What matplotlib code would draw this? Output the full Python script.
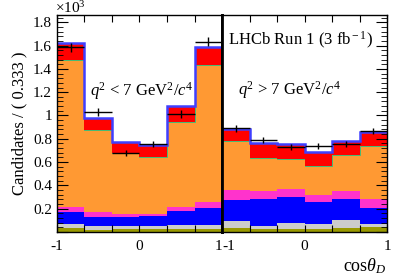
import numpy as np
import matplotlib
matplotlib.use('Agg')
import matplotlib.pyplot as plt
from matplotlib.ticker import FixedLocator, MultipleLocator, FuncFormatter

plt.rcParams['font.family'] = 'serif'
plt.rcParams['font.serif'] = ['Liberation Serif', 'DejaVu Serif']
plt.rcParams['mathtext.fontset'] = 'custom'
plt.rcParams['mathtext.rm'] = 'Liberation Serif'
plt.rcParams['mathtext.it'] = 'Liberation Serif:italic'

# bin edges in cos(theta_D), six bins per q2 region
edges = np.linspace(-1, 1, 7)
centres = 0.5 * (edges[1:] + edges[:-1])

# stacked components, in units of 10^3 candidates (bottom to top)
low_olive = [0.034, 0.022, 0.025, 0.025, 0.025, 0.025]
low_gray = [0.037, 0.028, 0.026, 0.029, 0.035, 0.035]
low_blue = [0.103, 0.081, 0.078, 0.080, 0.123, 0.149]
low_magenta = [0.041, 0.043, 0.026, 0.023, 0.032, 0.051]
low_orange = [1.261, 0.702, 0.525, 0.487, 0.732, 1.173]
low_red = [0.145, 0.100, 0.090, 0.100, 0.135, 0.157]
low_data = [1.585, 1.030, 0.680, 0.753, 1.013, 1.633]
low_err = [0.040, 0.032, 0.026, 0.027, 0.032, 0.040]

high_olive = [0.037, 0.026, 0.030, 0.030, 0.037, 0.046]
high_gray = [0.057, 0.026, 0.047, 0.039, 0.066, 0.020]
high_blue = [0.181, 0.231, 0.223, 0.191, 0.183, 0.143]
high_magenta = [0.085, 0.069, 0.072, 0.060, 0.066, 0.074]
high_orange = [0.424, 0.286, 0.255, 0.247, 0.309, 0.455]
high_red = [0.097, 0.123, 0.126, 0.122, 0.120, 0.123]
high_data = [0.890, 0.790, 0.727, 0.741, 0.755, 0.867]
high_err = [0.030, 0.028, 0.027, 0.027, 0.027, 0.029]

colours = ['#999900', '#cccccc', '#0000ff', '#ff33cc', '#ff9933', '#ff0000']

fig = plt.figure(figsize=(4.07, 2.77), dpi=100)
left, right, bottom, top = 0.140, 0.951, 0.162, 0.946
w = (right - left) / 2
ax1 = fig.add_axes([left, bottom, w, top - bottom])
ax2 = fig.add_axes([left + w, bottom, w, top - bottom], sharey=ax1)


def draw_panel(ax, layers, data, err):
    base = np.zeros(6)
    for vals, col in zip(layers, colours):
        vals = np.array(vals)
        ax.stairs(base + vals, edges, baseline=base, fill=True, color=col, lw=0)
        if col == '#ff9933':
            # thin green line on top of the orange component
            ax.stairs(base + vals, edges, baseline=None, color='#44bb77', lw=0.7)
        base = base + vals
    ax.stairs(base, edges, baseline=None, color='#3f3fff', lw=1.8)
    ax.errorbar(centres, data, xerr=1/6, yerr=err, fmt='none',
                ecolor='black', elinewidth=1.0, capsize=0)
    ax.set_xlim(-1, 1)
    ax.xaxis.set_major_locator(FixedLocator(list(edges)))
    ax.xaxis.set_major_formatter(FuncFormatter(
        lambda v, p: '%g' % round(v) if abs(v - round(v)) < 1e-6 else ''))
    ax.tick_params(axis='x', which='both', direction='in', top=True,
                   length=5, labelsize=11, pad=6)


draw_panel(ax1, [low_olive, low_gray, low_blue, low_magenta, low_orange, low_red],
           low_data, low_err)
draw_panel(ax2, [high_olive, high_gray, high_blue, high_magenta, high_orange, high_red],
           high_data, high_err)

ax1.set_ylim(0, 1.862)
ax1.yaxis.set_major_locator(MultipleLocator(0.2))
ax1.yaxis.set_minor_locator(MultipleLocator(0.04))
ax1.yaxis.set_major_formatter(FuncFormatter(lambda v, p: '' if v < 0.01 else '%g' % round(v, 1)))
ax1.tick_params(axis='y', which='major', direction='in', length=8, labelsize=11, right=False)
ax1.tick_params(axis='y', which='minor', direction='in', length=4, right=False)
ax2.tick_params(axis='y', which='major', direction='in', length=8, left=False,
                right=True, labelleft=False)
ax2.tick_params(axis='y', which='minor', direction='in', length=4, left=False, right=True)

# keep the "1" and "-1" at the panel join side by side
fig.canvas.draw()
ax1.get_xticklabels()[-1].set_ha('right')
ax2.get_xticklabels()[0].set_ha('left')

for ax in (ax1, ax2):
    for s in ax.spines.values():
        s.set_linewidth(1.0)
ax1.spines['right'].set_linewidth(2.0)
ax2.spines['left'].set_linewidth(2.0)

ax1.set_ylabel('Candidates / ( 0.333 )', fontsize=12, labelpad=4)
fig.text(left - 0.005, 0.998, r'$\times 10^{3}$', fontsize=11, ha='left', va='top')

ax1.text(0.03, 1.21, r'$q^2$ < 7 GeV$^2$/$c^4$', fontsize=12, ha='center', va='center')
ax2.text(-0.05, 1.64, r'LHCb Run 1 (3 fb$^{\rm -1}$)', fontsize=12, ha='center', va='center')
ax2.text(-0.18, 1.22, r'$q^2$ > 7 GeV$^2$/$c^4$', fontsize=12, ha='center', va='center')
ax2.set_xlabel(r'cos$\theta_D$', fontsize=13, loc='right', labelpad=2)

plt.savefig('out.png', dpi=100)
